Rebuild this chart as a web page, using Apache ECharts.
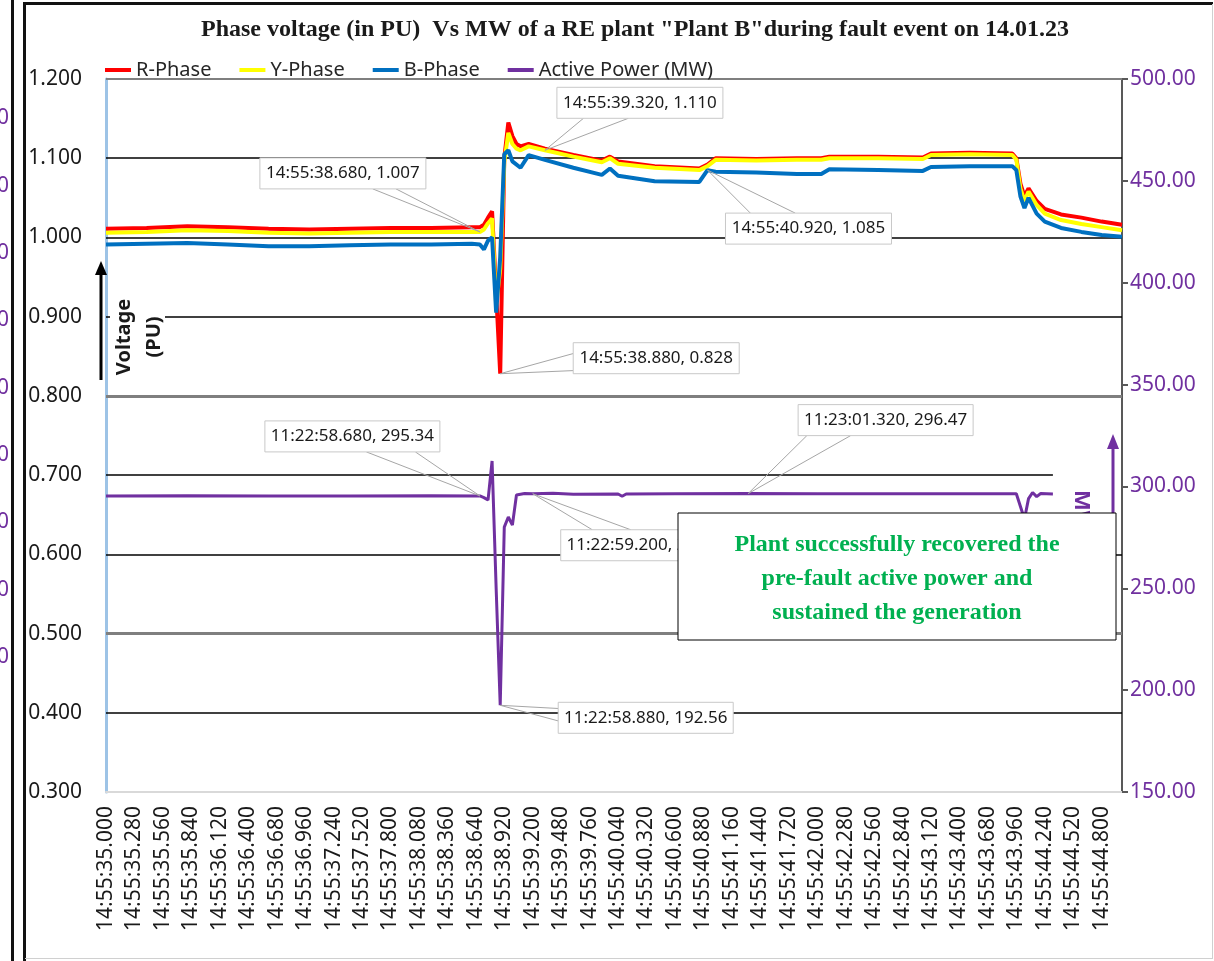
<!DOCTYPE html>
<html><head><meta charset="utf-8">
<script src="https://cdn.jsdelivr.net/npm/echarts@6/dist/echarts.min.js"></script>
<style>html,body{margin:0;padding:0;background:#fff}#c{width:1214px;height:961px}</style>
</head><body><div id="c"></div><script>
// ---------- data ----------
const chartTitle = 'Phase voltage (in PU)  Vs MW of a RE plant "Plant B"during fault event on 14.01.23';
const seriesNames = ['R-Phase', 'Y-Phase', 'B-Phase', 'Active Power (MW)'];
const timePrefix = '14:55:';
const voltTicks = [0.3, 0.4, 0.5, 0.6, 0.7, 0.8, 0.9, 1.0, 1.1, 1.2];
const powerTicks = [150, 200, 250, 300, 350, 400, 450, 500];

const rPhase = [[35.00,1.011],[35.40,1.012],[35.80,1.014],[36.20,1.013],[36.60,1.011],[37.00,1.010],[37.40,1.011],[37.80,1.012],[38.20,1.012],[38.60,1.013],[38.68,1.013],[38.72,1.016],[38.76,1.025],[38.80,1.033],[38.84,0.930],[38.88,0.828],[38.92,1.100],[38.96,1.145],[39.00,1.128],[39.04,1.118],[39.08,1.115],[39.16,1.118],[39.32,1.112],[39.60,1.104],[39.88,1.097],[39.96,1.102],[40.04,1.096],[40.40,1.090],[40.84,1.087],[40.92,1.092],[41.00,1.100],[41.40,1.099],[41.80,1.100],[42.04,1.100],[42.12,1.102],[42.60,1.102],[43.04,1.101],[43.12,1.106],[43.50,1.107],[43.92,1.106],[43.96,1.100],[44.00,1.068],[44.04,1.052],[44.08,1.062],[44.16,1.046],[44.24,1.036],[44.40,1.029],[44.60,1.025],[44.80,1.020],[45.00,1.016]];
const yPhase = [[35.00,1.006],[35.40,1.007],[35.80,1.009],[36.20,1.008],[36.60,1.006],[37.00,1.005],[37.40,1.006],[37.80,1.007],[38.20,1.007],[38.60,1.007],[38.68,1.007],[38.72,1.010],[38.76,1.018],[38.80,1.024],[38.84,0.915],[38.88,0.960],[38.92,1.095],[38.96,1.132],[39.00,1.118],[39.04,1.112],[39.08,1.110],[39.16,1.115],[39.32,1.110],[39.60,1.102],[39.88,1.095],[39.96,1.100],[40.04,1.093],[40.40,1.088],[40.84,1.085],[40.92,1.090],[41.00,1.098],[41.40,1.097],[41.80,1.098],[42.04,1.098],[42.12,1.100],[42.60,1.100],[43.04,1.099],[43.12,1.104],[43.50,1.105],[43.92,1.104],[43.96,1.098],[44.00,1.062],[44.04,1.046],[44.08,1.058],[44.16,1.041],[44.24,1.030],[44.40,1.022],[44.60,1.017],[44.80,1.013],[45.00,1.009]];
const bPhase = [[35.00,0.991],[35.40,0.992],[35.80,0.993],[36.20,0.991],[36.60,0.989],[37.00,0.989],[37.40,0.990],[37.80,0.991],[38.20,0.991],[38.60,0.992],[38.68,0.991],[38.72,0.985],[38.76,0.996],[38.80,1.000],[38.84,0.905],[38.88,0.975],[38.92,1.105],[38.96,1.110],[39.00,1.096],[39.08,1.088],[39.16,1.104],[39.32,1.098],[39.60,1.088],[39.88,1.079],[39.96,1.087],[40.04,1.078],[40.40,1.071],[40.84,1.070],[40.92,1.085],[41.00,1.083],[41.40,1.082],[41.80,1.080],[42.04,1.080],[42.12,1.086],[42.60,1.085],[43.04,1.084],[43.12,1.089],[43.50,1.090],[43.92,1.090],[43.96,1.085],[44.00,1.052],[44.04,1.037],[44.08,1.050],[44.16,1.030],[44.24,1.020],[44.40,1.012],[44.60,1.007],[44.80,1.003],[45.00,1.001]];
const activePower = [[35.00,295.3],[35.80,295.4],[36.60,295.3],[37.40,295.3],[38.20,295.4],[38.68,295.34],[38.72,294.5],[38.76,293.3],[38.80,312.5],[38.84,250.0],[38.88,192.56],[38.92,280.0],[38.96,285.0],[39.00,281.0],[39.04,295.8],[39.12,296.5],[39.20,296.41],[39.40,296.6],[39.60,296.2],[40.04,296.3],[40.08,295.2],[40.12,296.3],[40.60,296.4],[41.32,296.47],[42.00,296.4],[42.80,296.4],[43.50,296.4],[43.96,296.4],[44.04,284.0],[44.08,294.0],[44.12,297.0],[44.16,295.0],[44.20,296.5],[44.32,296.3]];

// data callouts: which axis, time, value, text
const annotations = [
  {axis:0, t:38.68, v:1.007, text:'14:55:38.680, 1.007'},
  {axis:0, t:39.32, v:1.110, text:'14:55:39.320, 1.110'},
  {axis:0, t:40.92, v:1.085, text:'14:55:40.920, 1.085'},
  {axis:0, t:38.88, v:0.828, text:'14:55:38.880, 0.828'},
  {axis:1, t:38.68, v:295.34, text:'11:22:58.680, 295.34'},
  {axis:1, t:41.32, v:296.47, text:'11:23:01.320, 296.47'},
  {axis:1, t:39.20, v:296.41, text:'11:22:59.200, 296.41'},
  {axis:1, t:38.88, v:192.56, text:'11:22:58.880, 192.56'}
];
const noteText = ['Plant successfully recovered the', 'pre-fault active power and', 'sustained the generation'];

// ---------- layout / style ----------
const annotationLayout = [
  {dx:-220, dy:-74, edge:'bottom', f:[0.68,0.82]},
  {dx:12, dy:-63, edge:'bottom', f:[0.16,0.43]},
  {dx:18, dy:43, edge:'top', f:[0.15,0.42]},
  {dx:73, dy:-31, edge:'left', f:[0.35,0.9]},
  {dx:-215, dy:-75, edge:'bottom', f:[0.58,0.86]},
  {dx:50, dy:-89, edge:'bottom', f:[0.05,0.3]},
  {dx:28, dy:36, edge:'top', f:[0.18,0.4]},
  {dx:58, dy:-3, edge:'left', f:[0.2,0.6]}
];
const colors = ['#ff0000', '#ffff00', '#0070c0', '#7030a0'];
const FONT = '"Noto Sans", "DejaVu Sans", sans-serif';
const gridStyle = {0.4:['#000',1.5],0.5:['#7f7f7f',3],0.6:['#000',1.5],0.8:['#7f7f7f',3],0.9:['#000',1.5],1.0:['#000',1.5],1.1:['#000',1.5],1.2:['#7f7f7f',2]};

const gridLines = [];
voltTicks.forEach(v => {
  const st = gridStyle[v];
  if (st) gridLines.push({yAxis: v, lineStyle: {color: st[0], width: st[1], type: 'solid'}});
});
// the 0.7 line only runs as far as the power record
gridLines.push([{coord:[activePower[0][0], 0.7]}, {coord:[activePower[activePower.length-1][0], 0.7], lineStyle:{color:'#000', width:1.5, type:'solid'}}]);

const option = {
  animation: false,
  backgroundColor: '#fff',
  title: {
    text: chartTitle, left: 630, top: 13, textAlign: 'center',
    textStyle: {fontFamily: '"Liberation Serif", serif', fontWeight: 'bold', fontSize: 24, color: '#1a1a1a'}
  },
  legend: {
    data: seriesNames, left: 100, top: 55, icon: 'rect', itemWidth: 26, itemHeight: 4, itemGap: 28,
    textStyle: {fontFamily: FONT, fontSize: 20, color: '#262626'}
  },
  grid: {left: 106, right: 92, top: 79, bottom: 169},
  xAxis: {
    type: 'value', min: 35, max: 45, interval: 0.28,
    axisLine: {show: true, lineStyle: {color: '#d9d9d9', width: 2}},
    axisTick: {show: false}, splitLine: {show: false},
    axisLabel: {
      rotate: 90, margin: 14, fontFamily: FONT, fontSize: 21, color: '#1a1a1a',
      formatter: v => Math.abs(v / 0.28 - Math.round(v / 0.28)) < 1e-6 ? timePrefix + v.toFixed(3) : ''
    }
  },
  yAxis: [
    {
      type: 'value', min: voltTicks[0], max: voltTicks[voltTicks.length-1], interval: 0.1,
      axisLine: {show: true, lineStyle: {color: '#9dc3e6', width: 3}},
      axisTick: {show: false}, splitLine: {show: false},
      axisLabel: {formatter: v => v.toFixed(3), margin: 24, fontFamily: FONT, fontSize: 21, color: '#1a1a1a'}
    },
    {
      type: 'value', position: 'right', min: powerTicks[0], max: powerTicks[powerTicks.length-1], interval: 50,
      axisLine: {show: true, lineStyle: {color: '#595959', width: 2}},
      axisTick: {show: true, length: 6, lineStyle: {color: '#595959', width: 2}},
      splitLine: {show: false},
      axisLabel: {formatter: v => v.toFixed(2), margin: 8, fontFamily: FONT, fontSize: 21, color: '#70309f'}
    }
  ],
  series: [
    {type: 'line', name: '_grid', data: [], silent: true,
     markLine: {silent: true, z: 1, symbol: ['none','none'], label: {show: false}, data: gridLines}},
    {type: 'line', name: seriesNames[0], data: rPhase, yAxisIndex: 0, showSymbol: false, color: colors[0], lineStyle: {width: 4, color: colors[0]}},
    {type: 'line', name: seriesNames[1], data: yPhase, yAxisIndex: 0, showSymbol: false, color: colors[1], lineStyle: {width: 4, color: colors[1]}},
    {type: 'line', name: seriesNames[2], data: bPhase, yAxisIndex: 0, showSymbol: false, color: colors[2], lineStyle: {width: 4, color: colors[2]}},
    {type: 'line', name: seriesNames[3], data: activePower, yAxisIndex: 1, showSymbol: false, color: colors[3], lineStyle: {width: 3, color: colors[3]}}
  ]
};

const chart = echarts.init(document.getElementById('c'));
chart.setOption(option);

// ---------- callouts & decorations ----------
const ctx = document.createElement('canvas').getContext('2d');
const annFont = '17px ' + FONT;
ctx.font = annFont;
const g = [];
annotations.forEach((a, i) => {
  const L = annotationLayout[i];
  const p = chart.convertToPixel({xAxisIndex: 0, yAxisIndex: a.axis}, [a.t, a.v]);
  const w = Math.round(ctx.measureText(a.text).width + 12), h = 31;
  const bx = p[0] + L.dx, by = p[1] + L.dy;
  let b1, b2;
  if (L.edge === 'bottom') { b1 = [bx + w*L.f[0], by + h]; b2 = [bx + w*L.f[1], by + h]; }
  else if (L.edge === 'top') { b1 = [bx + w*L.f[0], by]; b2 = [bx + w*L.f[1], by]; }
  else { b1 = [bx, by + h*L.f[0]]; b2 = [bx, by + h*L.f[1]]; }
  g.push({type: 'polyline', shape: {points: [b1, p, b2]}, style: {stroke: '#a6a6a6', lineWidth: 1, fill: null}, z: 50});
  g.push({type: 'rect', shape: {x: bx, y: by, width: w, height: h}, style: {fill: '#fff', stroke: '#c8c8c8', lineWidth: 1}, z: 51});
  g.push({type: 'text', x: bx + w/2, y: by + h/2, style: {text: a.text, font: annFont, fill: '#1a1a1a', align: 'center', verticalAlign: 'middle'}, z: 52});
});

// Voltage axis caption with arrow
g.push({type: 'rect', shape: {x: 110, y: 290, width: 55, height: 95}, style: {fill: '#fff'}, z: 40});
g.push({type: 'text', x: 139, y: 337, rotation: Math.PI/2,
  style: {text: 'Voltage\n(PU)', font: 'bold 20px ' + FONT, fill: '#1a1a1a', align: 'center', verticalAlign: 'middle', lineHeight: 30}, z: 41});
g.push({type: 'line', shape: {x1: 101, y1: 380, x2: 101, y2: 272}, style: {stroke: '#000', lineWidth: 3}, z: 41});
g.push({type: 'polygon', shape: {points: [[95, 275], [107, 275], [101, 261]]}, style: {fill: '#000'}, z: 41});

// MW caption with arrow (mostly behind the note box)
g.push({type: 'text', x: 1081, y: 490, rotation: -Math.PI/2,
  style: {text: 'MW', font: 'bold 22px ' + FONT, fill: '#7030a0', align: 'left', verticalAlign: 'middle'}, z: 41});
g.push({type: 'line', shape: {x1: 1113, y1: 560, x2: 1113, y2: 447}, style: {stroke: '#7030a0', lineWidth: 3}, z: 41});
g.push({type: 'polygon', shape: {points: [[1107, 449], [1119, 449], [1113, 434]]}, style: {fill: '#7030a0'}, z: 41});

// Note box
g.push({type: 'rect', shape: {x: 678, y: 513, width: 438, height: 127}, style: {fill: '#fff', stroke: '#000', lineWidth: 1}, z: 60});
noteText.forEach((t, i) => {
  g.push({type: 'text', x: 897, y: 545 + i*34, style: {text: t, font: 'bold 24px "Liberation Serif", serif', fill: '#00b050', align: 'center', verticalAlign: 'middle'}, z: 61});
});

// Outer frame and clipped neighbouring chart fragments
[118, 186, 253, 320, 388, 455, 522, 590, 657].forEach(y => {
  g.push({type: 'text', x: 9, y: y, style: {text: '0', font: '21px ' + FONT, fill: '#70309f', align: 'right', verticalAlign: 'middle'}, z: 70});
});
g.push({type: 'rect', shape: {x: 11, y: 0, width: 3, height: 961}, style: {fill: '#111'}, z: 71});
g.push({type: 'rect', shape: {x: 23, y: 2, width: 3, height: 959}, style: {fill: '#111'}, z: 71});
g.push({type: 'rect', shape: {x: 23, y: 2, width: 1190, height: 3}, style: {fill: '#111'}, z: 71});
g.push({type: 'line', shape: {x1: 1212.5, y1: 4, x2: 1212.5, y2: 958}, style: {stroke: '#d0d0d0', lineWidth: 1}, z: 71});
g.push({type: 'line', shape: {x1: 25, y1: 958.5, x2: 1213, y2: 958.5}, style: {stroke: '#d0d0d0', lineWidth: 1}, z: 71});

chart.setOption({graphic: {elements: g}});
</script></body></html>
